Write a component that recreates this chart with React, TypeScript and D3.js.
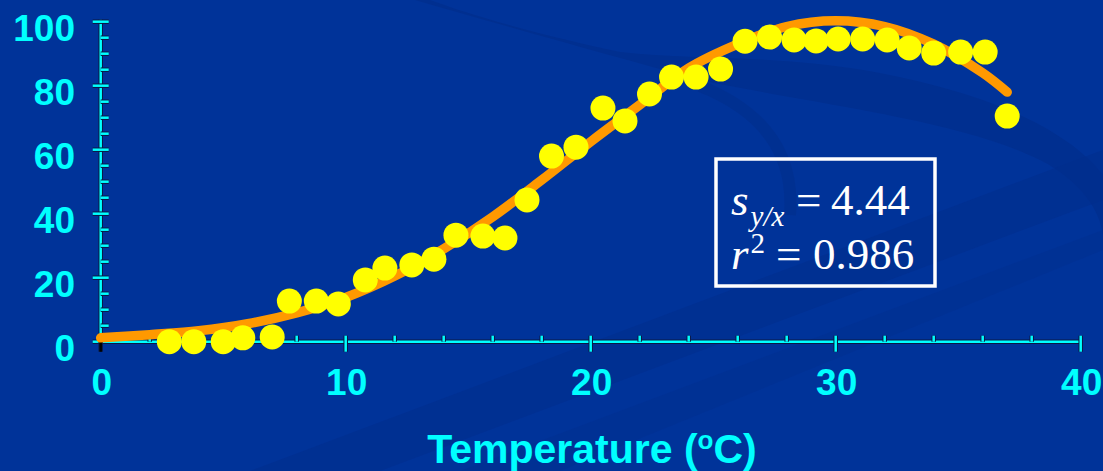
import React, { useEffect, useRef } from "react";
import * as d3 from "d3";

// measured points: temperature (oC) vs response
const temps = [2.8, 3.8, 5.0, 5.8, 7.0, 7.7, 8.8, 9.7, 10.8, 11.6, 12.7, 13.6, 14.5, 15.6, 16.5, 17.4, 18.4, 19.4, 20.5, 21.4, 22.4, 23.3, 24.3, 25.3, 26.3, 27.3, 28.3, 29.2, 30.1, 31.1, 32.1, 33.0, 34.0, 35.1, 36.1, 37.0];
const responses = [0, 0, 0, 1.2, 1.5, 12.7, 12.7, 11.8, 19.3, 23.0, 24.0, 25.8, 33.3, 33.0, 32.4, 44.3, 58.0, 60.8, 73.0, 69.0, 77.4, 82.7, 82.7, 85.2, 93.9, 95.2, 94.3, 94.0, 94.6, 94.6, 94.3, 91.8, 90.2, 90.5, 90.5, 70.5];

// fitted curve
const fitX = [0, 2, 4, 6, 8, 10, 12, 14, 16, 18, 20, 22, 24, 26, 28, 30, 32, 34, 36, 37];
const fitY = [1.2, 2.2, 3.4, 5.6, 9.0, 13.8, 20.5, 29.0, 39.0, 50.5, 62.5, 74.0, 85.5, 93.0, 98.5, 100.3, 98.5, 93.0, 84.0, 78.0];

const xTicks = [0, 10, 20, 30, 40];
const yTicks = [0, 20, 40, 60, 80, 100];
const xMinor = d3.range(0, 41, 2);
const yMinor = d3.range(0, 101, 5);

const statLines = ["4.44", "0.986"];

const CYAN = "#00ffff";
const EDGE = "#0b1a45";

const App = () => {
  const ref = useRef<SVGGElement | null>(null);
  const x = d3.scaleLinear().domain([0, 40]).range([100.7, 1080.7]);
  const y = d3.scaleLinear().domain([0, 100]).range([341.7, 21.7]);

  useEffect(() => {
    const g = d3.select(ref.current);
    g.selectAll("*").remove();

    // background swooshes
    const bg = g.append("g");
    bg.append("path")
      .attr("d", "M 415 0 C 520 30 620 58 700 80 C 820 105 960 120 1040 160 C 1080 180 1100 210 1103 235 L 1103 175 C 1060 120 960 85 850 68 C 760 55 690 60 620 52 C 540 35 470 15 430 0 Z")
      .attr("fill", "#002e8c")
      .attr("opacity", 0.7);
    bg.append("path")
      .attr("d", "M 700 86 C 760 110 795 150 790 215")
      .attr("fill", "none")
      .attr("stroke", "#002e8c")
      .attr("stroke-width", 12)
      .attr("opacity", 0.6);
    bg.append("path")
      .attr("d", "M 250 471 L 1103 150 L 1103 200 L 380 471 Z")
      .attr("fill", "#002e8c")
      .attr("opacity", 0.55);
    bg.append("path")
      .attr("d", "M 460 471 L 1103 230 L 1103 250 L 560 471 Z")
      .attr("fill", "#002e8c")
      .attr("opacity", 0.35);

    const axis = g.append("g");
    const seg = (x1: number, y1: number, x2: number, y2: number, col = CYAN) => {
      axis.append("line").attr("x1", x1).attr("y1", y1).attr("x2", x2).attr("y2", y2)
        .attr("stroke", EDGE).attr("stroke-width", 4.5);
      axis.append("line").attr("x1", x1).attr("y1", y1).attr("x2", x2).attr("y2", y2)
        .attr("stroke", col).attr("stroke-width", 2.5);
    };

    // y axis
    seg(x(0), y(0), x(0), y(100) - 2);
    yMinor.forEach(v => {
      if (v % 20 === 0) seg(x(0) - 8, y(v), x(0) + 8, y(v));
      else seg(x(0), y(v), x(0) + 8, y(v));
    });
    // x axis
    seg(x(0), y(0), x(40), y(0));
    xMinor.forEach(v => {
      if (v % 10 === 0) {
        if (v === 0) seg(x(v), y(0), x(v), y(0) + 10, "#000000");
        else seg(x(v), y(0) - 6, x(v), y(0) + 10);
      } else seg(x(v), y(0) - 6, x(v), y(0));
    });

    const labels = g.append("g")
      .attr("fill", CYAN)
      .attr("font-family", "'Liberation Sans', Arial, sans-serif")
      .attr("font-weight", "bold")
      .attr("font-size", 37);
    labels.selectAll("text.yl").data(yTicks).enter().append("text")
      .attr("class", "yl")
      .attr("x", 75)
      .attr("y", d => y(d) + 19)
      .attr("text-anchor", "end")
      .text(d => d);
    labels.selectAll("text.xl").data(xTicks).enter().append("text")
      .attr("class", "xl")
      .attr("x", d => x(d) + 1)
      .attr("y", 395)
      .attr("text-anchor", "middle")
      .text(d => d);

    const title = g.append("text")
      .attr("x", 592)
      .attr("y", 463)
      .attr("text-anchor", "middle")
      .attr("fill", CYAN)
      .attr("font-family", "'Liberation Sans', Arial, sans-serif")
      .attr("font-weight", "bold")
      .attr("font-size", 41);
    title.append("tspan").text("Temperature (");
    title.append("tspan").attr("font-size", 26).attr("dy", -14).text("o");
    title.append("tspan").attr("dy", 14).text("C)");

    // fitted curve
    const line = d3.line<number>()
      .x((d, i) => x(fitX[i]))
      .y(d => y(d))
      .curve(d3.curveCatmullRom.alpha(0.5));
    g.append("path")
      .attr("d", line(fitY))
      .attr("fill", "none")
      .attr("stroke", "#ff9900")
      .attr("stroke-width", 9.5)
      .attr("stroke-linecap", "round");

    g.selectAll("circle.pt").data(temps).enter().append("circle")
      .attr("class", "pt")
      .attr("cx", d => x(d))
      .attr("cy", (d, i) => y(responses[i]))
      .attr("r", 12.5)
      .attr("fill", "#ffff00");

    // stats box
    const box = g.append("g")
      .attr("fill", "#ffffff")
      .attr("font-family", "'Liberation Serif', 'Times New Roman', serif")
      .attr("font-size", 45);
    box.append("rect")
      .attr("x", 716).attr("y", 159).attr("width", 219).attr("height", 127)
      .attr("fill", "none").attr("stroke", "#ffffff").attr("stroke-width", 3.5);
    const l1 = box.append("text").attr("x", 731).attr("y", 215);
    l1.append("tspan").attr("font-style", "italic").text("s");
    l1.append("tspan").attr("font-style", "italic").attr("font-size", 29).attr("dx", 2).attr("dy", 11).text("y/x");
    l1.append("tspan").attr("x", 796).attr("dy", -11).text("=");
    l1.append("tspan").attr("x", 831).text(statLines[0]);
    const l2 = box.append("text").attr("x", 731).attr("y", 269);
    l2.append("tspan").attr("font-style", "italic").text("r");
    l2.append("tspan").attr("font-size", 29).attr("dx", 2).attr("dy", -16).text("2");
    l2.append("tspan").attr("x", 776).attr("dy", 16).text("=");
    l2.append("tspan").attr("x", 813).text(statLines[1]);
  }, []);

  return (
    <svg width={1103} height={471} style={{ position: "absolute", left: 0, top: 0, background: "#003399" }}>
      <rect width={1103} height={471} fill="#003399" />
      <g ref={ref} />
    </svg>
  );
};

export default App;
